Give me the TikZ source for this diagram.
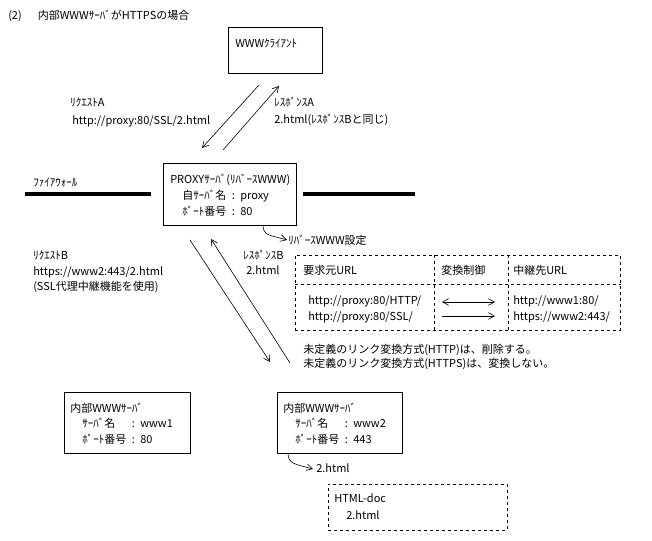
\documentclass[tikz,border=0pt]{standalone}
\usepackage{fontspec}
\setmainfont{Noto Sans CJK JP}
\usetikzlibrary{arrows.meta,calc}
\tikzset{
  srvbox/.style={draw, line width=0.6pt, inner sep=0pt, anchor=north west},
  dashbox/.style={srvbox, dash pattern=on 2.25pt off 2.25pt},
  dashline/.style={line width=0.6pt, dash pattern=on 2.25pt off 2.25pt},
  txt/.style={anchor=mid west, inner sep=0pt, font=\fontsize{8.25}{10}\selectfont},
  flow/.style={-{Straight Barb[length=4.5pt,width=5pt]}, line width=0.45pt},
  bothflow/.style={{Straight Barb[length=4.5pt,width=5pt]}-{Straight Barb[length=4.5pt,width=5pt]}, line width=0.45pt},
  wall/.style={line width=2.4pt}
}

\begin{document}
\begin{tikzpicture}[x=0.75pt, y=-0.75pt]
\useasboundingbox (0,0) rectangle (652,541);

% title
\node[txt] (title) at (8,16) {(2)\hspace{12pt}内部WWWｻｰﾊﾞがHTTPSの場合};

% boxes
\node[srvbox, minimum width=70.5pt, minimum height=34.5pt] (client) at (228,27) {};
\node[srvbox, minimum width=99.75pt, minimum height=46.5pt] (proxy) at (163,163) {};
\node[srvbox, minimum width=94.5pt, minimum height=45.75pt] (www1) at (64,392) {};
\node[srvbox, minimum width=93.75pt, minimum height=45.75pt] (www2) at (277,392) {};
\node[dashbox, minimum width=243.75pt, minimum height=56.25pt] (tbl) at (295,255) {};
\node[dashbox, minimum width=134.25pt, minimum height=34.5pt] (htmldoc) at (328,484) {};

% box texts
\node[txt] (client-t) at (235,44) {WWWｸﾗｲｱﾝﾄ};
\node[txt] (proxy-t1) at (170,180) {PROXYｻｰﾊﾞ(ﾘﾊﾞｰｽWWW)};
\node[txt] (proxy-t2) at (182,196) {自ｻｰﾊﾞ名\enspace:\enspace proxy};
\node[txt] (proxy-t3) at (182,212) {ﾎﾟｰﾄ番号\enspace:\enspace 80};
\node[txt] (www1-t1) at (70,409) {内部WWWｻｰﾊﾞ};
\node[txt] (www1-t2) at (82,424) {ｻｰﾊﾞ名　\enspace:\enspace www1};
\node[txt] (www1-t3) at (82,440) {ﾎﾟｰﾄ番号\enspace:\enspace 80};
\node[txt] (www2-t1) at (283,409) {内部WWWｻｰﾊﾞ};
\node[txt] (www2-t2) at (295,424) {ｻｰﾊﾞ名　\enspace:\enspace www2};
\node[txt] (www2-t3) at (295,440) {ﾎﾟｰﾄ番号\enspace:\enspace 443};
\node[txt] (doc-t1) at (334,499) {HTML-doc};
\node[txt] (doc-t2) at (346,516) {2.html};

% firewall
\node[txt] (fw) at (33,183) {ﾌｧｲｱｳｫｰﾙ};
\coordinate (fw-l1) at (25,194);
\coordinate (fw-l2) at (151,194);
\coordinate (fw-r1) at (303,194);
\coordinate (fw-r2) at (415,194);
\draw[wall] (fw-l1) -- (fw-l2);
\draw[wall] (fw-r1) -- (fw-r2);

% client <-> proxy
\coordinate (reqA-s) at (259,85);
\coordinate (reqA-e) at (202,148);
\coordinate (resA-s) at (223,150);
\coordinate (resA-e) at (279,86);
\draw[flow] (reqA-s) -- (reqA-e);
\draw[flow] (resA-s) -- (resA-e);
\node[txt] (reqA) at (70,103) {ﾘｸｴｽﾄA};
\node[txt] (reqA-url) at (72,121) {http://proxy:80/SSL/2.html};
\node[txt] (resA) at (274,103) {ﾚｽﾎﾟﾝｽA};
\node[txt] (resA-doc) at (274,120) {2.html(ﾚｽﾎﾟﾝｽBと同じ)};

% proxy <-> www2
\coordinate (reqB-s) at (190,240);
\coordinate (reqB-e) at (270,362);
\coordinate (resB-s) at (290,363);
\coordinate (resB-e) at (211,239);
\draw[flow] (reqB-s) -- (reqB-e);
\draw[flow] (resB-s) -- (resB-e);
\node[txt] (reqB) at (33,256) {ﾘｸｴｽﾄB};
\node[txt] (reqB-url) at (33,272) {https://www2:443/2.html};
\node[txt] (reqB-note) at (33,287) {(SSL代理中継機能を使用)};
\node[txt] (resB) at (243,256) {ﾚｽﾎﾟﾝｽB};
\node[txt] (resB-doc) at (246,271) {2.html};

% reverse WWW settings
\coordinate (rev-s) at (263,225);
\coordinate (rev-e) at (287,240);
\draw[flow] (rev-s) .. controls (263,236) and (270,235) .. (rev-e);
\node[txt] (rev) at (288,241) {ﾘﾊﾞｰｽWWW設定};

\draw[dashline] ($(tbl.north west)+(0,29)$) -- ($(tbl.north east)+(0,29)$);
\draw[dashline] ($(tbl.north west)+(139,0)$) -- ($(tbl.south west)+(139,0)$);
\draw[dashline] ($(tbl.north west)+(213,0)$) -- ($(tbl.south west)+(213,0)$);
\node[txt] (src) at (303,271) {要求元URL};
\node[txt] (ctl) at (441,271) {変換制御};
\node[txt] (dst) at (513,271) {中継先URL};
\node[txt] (src1) at (308,301) {http://proxy:80/HTTP/};
\node[txt] (src2) at (308,317) {http://proxy:80/SSL/};
\node[txt] (dst1) at (513,301) {http://www1:80/};
\node[txt] (dst2) at (513,317) {https://www2:443/};
\coordinate (ctl1-s) at (442,302);
\coordinate (ctl1-e) at (495,302);
\coordinate (ctl2-s) at (442,316);
\coordinate (ctl2-e) at (495,316);
\draw[bothflow] (ctl1-s) -- (ctl1-e);
\draw[flow] (ctl2-s) -- (ctl2-e);

\node[txt] (note1) at (303,350) {未定義のリンク変換方式(HTTP)は、削除する。};
\node[txt] (note2) at (303,364) {未定義のリンク変換方式(HTTPS)は、変換しない。};

% www2 -> document
\coordinate (doc-s) at (288,453);
\coordinate (doc-e) at (313,469);
\draw[flow] (doc-s) .. controls (288,464) and (295,464) .. (doc-e);
\node[txt] (doc) at (316,469) {2.html};
\end{tikzpicture}
\end{document}
